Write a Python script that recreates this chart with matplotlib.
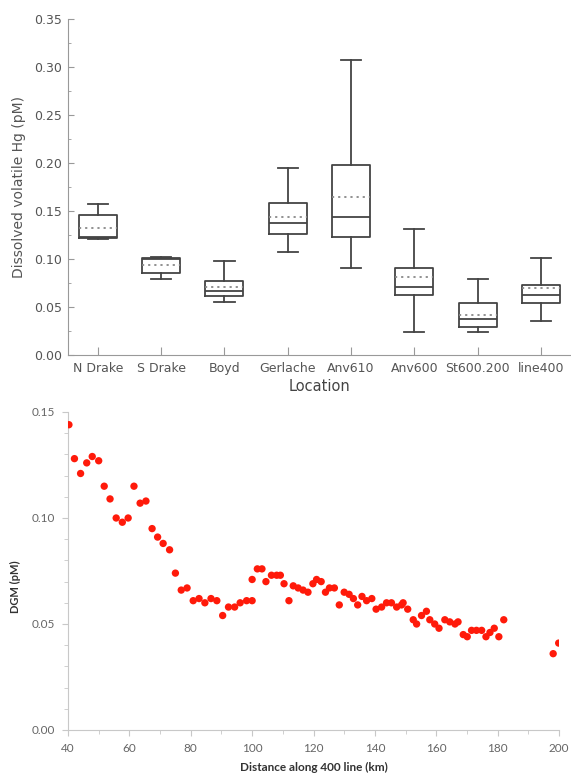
import matplotlib
matplotlib.use("Agg")
import matplotlib.pyplot as plt
from matplotlib.ticker import MultipleLocator

# box plot data (pM)
locations = ['N Drake', 'S Drake', 'Boyd', 'Gerlache', 'Anv610', 'Anv600', 'St600.200', 'line400']
whis_lo = [0.121, 0.0795, 0.055, 0.107, 0.091, 0.024, 0.024, 0.035]
q1 = [0.1215, 0.085, 0.0615, 0.126, 0.123, 0.063, 0.0295, 0.054]
medians = [0.1225, 0.0995, 0.0667, 0.137, 0.1437, 0.0705, 0.0372, 0.0622]
q3 = [0.146, 0.1014, 0.0774, 0.1586, 0.1976, 0.0906, 0.0538, 0.0729]
whis_hi = [0.157, 0.1024, 0.098, 0.195, 0.307, 0.131, 0.0795, 0.1014]
means = [0.132, 0.094, 0.0712, 0.1434, 0.165, 0.081, 0.0417, 0.0694]

# DGM along 400 line
distance = [40.3, 42.1, 44.1, 46.1, 47.9, 50.0, 51.8, 53.7, 55.7, 57.7, 59.6, 61.5, 63.5, 65.4,
            67.4, 69.2, 71.0, 73.1, 75.0, 76.9, 78.8, 80.8, 82.7, 84.6, 86.6, 88.5, 90.4, 92.3,
            94.3, 96.1, 98.2, 100.0, 100.0, 101.7, 103.2, 104.5, 106.3, 108.0, 109.2, 110.4, 112.0,
            113.4, 115.0, 116.6, 118.2, 119.8, 121.0, 122.5, 123.9, 125.2, 126.8, 128.4, 130.0,
            131.6, 133.0, 134.4, 135.8, 137.3, 139.0, 140.4, 142.2, 143.8, 145.4, 147.1, 148.7,
            149.2, 150.7, 152.5, 153.6, 155.2, 156.8, 157.9, 159.5, 160.9, 162.8, 164.4, 166.1,
            167.1, 168.8, 170.1, 171.5, 173.1, 174.8, 176.2, 177.5, 178.9, 180.4, 182.0, 198.1, 199.9]
dgm = [0.144, 0.128, 0.121, 0.126, 0.129, 0.127, 0.115, 0.109, 0.100, 0.098, 0.100, 0.115, 0.107, 0.108,
       0.095, 0.091, 0.088, 0.085, 0.074, 0.066, 0.067, 0.061, 0.062, 0.060, 0.062, 0.061, 0.054, 0.058,
       0.058, 0.060, 0.061, 0.061, 0.071, 0.076, 0.076, 0.070, 0.073, 0.073, 0.073, 0.069, 0.061,
       0.068, 0.067, 0.066, 0.065, 0.069, 0.071, 0.070, 0.065, 0.067, 0.067, 0.059, 0.065,
       0.064, 0.062, 0.059, 0.063, 0.061, 0.062, 0.057, 0.058, 0.060, 0.060, 0.058, 0.059,
       0.060, 0.057, 0.052, 0.050, 0.054, 0.056, 0.052, 0.050, 0.048, 0.052, 0.051, 0.050,
       0.051, 0.045, 0.044, 0.047, 0.047, 0.047, 0.044, 0.046, 0.048, 0.044, 0.052, 0.036, 0.041]

fig = plt.figure(figsize=(5.71, 7.76), dpi=100)

# --- верхний график: box plot
ax1 = fig.add_axes([68 / 571, 1 - 355 / 776, 504 / 571, 336 / 776])
stats = []
for i, name in enumerate(locations):
    stats.append(dict(label=name, whislo=whis_lo[i], q1=q1[i], med=medians[i],
                      q3=q3[i], whishi=whis_hi[i], mean=means[i], fliers=[]))

box_col = '#444444'
ax1.bxp(stats, positions=range(len(locations)), widths=0.6, capwidths=0.32,
        showmeans=True, meanline=True, showfliers=False,
        boxprops=dict(color=box_col, linewidth=1.3),
        whiskerprops=dict(color=box_col, linewidth=1.3),
        capprops=dict(color=box_col, linewidth=1.3),
        medianprops=dict(color=box_col, linewidth=1.3),
        meanprops=dict(color='#888888', linestyle=(0, (1.2, 2.2)), linewidth=1.3))

ax1.set_xlim(-0.47, 7.49)
ax1.set_ylim(0, 0.35)
ax1.yaxis.set_major_locator(MultipleLocator(0.05))
ax1.yaxis.set_minor_locator(MultipleLocator(0.025))
ax1.yaxis.set_major_formatter(plt.FormatStrFormatter('%.2f'))
for s in ['top', 'right']:
    ax1.spines[s].set_visible(False)
for s in ['left', 'bottom']:
    ax1.spines[s].set_color('#999999')
ax1.tick_params(axis='both', which='both', direction='in', colors='#999999',
                labelcolor='#555555', labelsize=9)
ax1.tick_params(axis='y', which='major', length=4, pad=4)
ax1.tick_params(axis='y', which='minor', length=2)
ax1.tick_params(axis='x', which='major', length=6, pad=5)
ax1.set_xlabel('Location', fontsize=10.5, color='#444444', labelpad=3)
ax1.set_ylabel('Dissolved volatile Hg (pM)', fontsize=10, color='#555555', labelpad=6)

# --- нижний график: DGM
ax2 = fig.add_axes([68 / 571, 1 - 730 / 776, 491 / 571, 318 / 776])
ax2.scatter(distance, dgm, c='#ff1a0a', edgecolors='none', s=28, zorder=3)
ax2.set_xlim(40, 200)
ax2.set_ylim(0, 0.15)
ax2.xaxis.set_major_locator(MultipleLocator(20))
ax2.xaxis.set_minor_locator(MultipleLocator(10))
ax2.yaxis.set_major_locator(MultipleLocator(0.05))
ax2.yaxis.set_minor_locator(MultipleLocator(0.01))
ax2.yaxis.set_major_formatter(plt.FormatStrFormatter('%.2f'))
for s in ['top', 'right']:
    ax2.spines[s].set_visible(False)
for s in ['left', 'bottom']:
    ax2.spines[s].set_color('#c8c8c8')
ax2.tick_params(axis='both', which='both', direction='out', colors='#c8c8c8',
                labelcolor='#666666', labelsize=8.5)
ax2.tick_params(axis='both', which='major', length=4, pad=5)
ax2.tick_params(axis='both', which='minor', length=3)
for lab in ax2.get_xticklabels() + ax2.get_yticklabels():
    lab.set_family('Lato')
ax2.set_xlabel('Distance along 400 line (km)', fontsize=8.5, fontweight='bold',
               family='Lato', color='#333333', labelpad=6)
ax2.set_ylabel('DGM (pM)', fontsize=8, fontweight='bold', family='Lato', color='#333333')
ax2.yaxis.set_label_coords(-0.095, 0.45)

fig.savefig('out.png', dpi=100)
